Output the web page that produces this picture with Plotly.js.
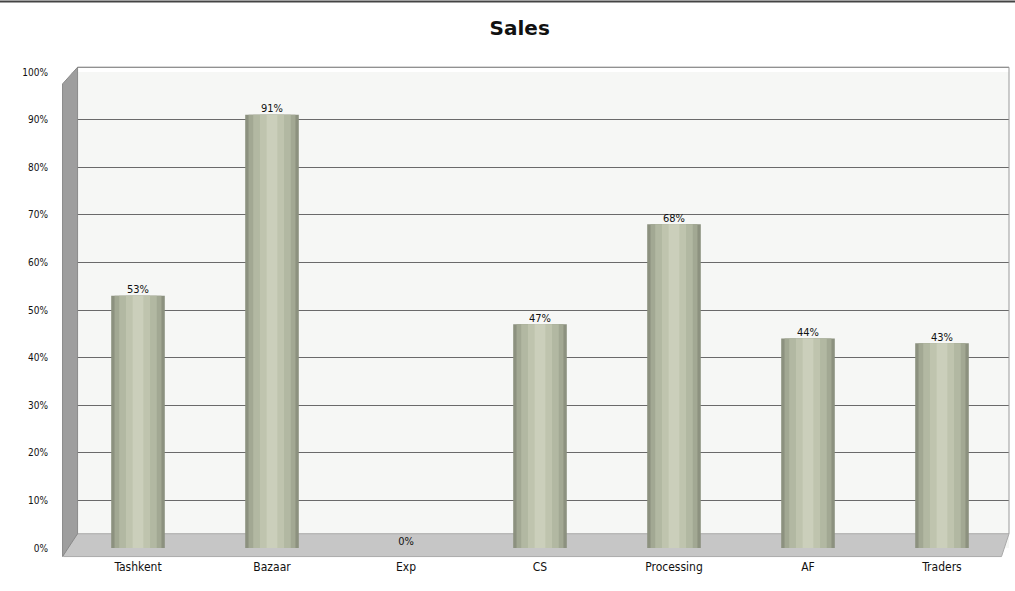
<!DOCTYPE html>
<html><head><meta charset="utf-8">
<script src="https://cdn.plot.ly/plotly-3.0.1.min.js"></script>
<style>html,body{margin:0;padding:0;background:#fff}#chart{width:1015px;height:591px}</style>
</head><body><div id="chart"></div>
<script>
const categories = ["Tashkent","Bazaar","Exp","CS","Processing","AF","Traders"];
const salesValues = [0.53, 0.91, 0.0, 0.47, 0.68, 0.44, 0.43];
const valueLabels = ["53%","91%","0%","47%","68%","44%","43%"];
const yTickValues = [0,0.1,0.2,0.3,0.4,0.5,0.6,0.7,0.8,0.9,1.0];
const yTickLabels = ["0%","10%","20%","30%","40%","50%","60%","70%","80%","90%","100%"];

const font = "'DejaVu Sans Condensed','Liberation Sans Narrow','Liberation Sans',sans-serif";

const layers = [
  {w:0.40, c:"#8c917f"},
  {w:0.35, c:"#a2a893"},
  {w:0.28, c:"#b2b8a2"},
  {w:0.18, c:"#bfc4ae"},
  {w:0.08, c:"#cbcfbb"}
];
const traces = layers.map(l => ({
  type:"bar", x:categories, y:salesValues, width:l.w,
  marker:{color:l.c, line:{width:0}}, hoverinfo:"skip", showlegend:false
}));
traces.push({
  type:"scatter", mode:"text", x:categories, y:salesValues, text:valueLabels,
  textposition:"top center", textfont:{family:font, size:11, color:"#111"},
  showlegend:false, hoverinfo:"skip", cliponaxis:false
});

const layout = {
  width:1015, height:591,
  paper_bgcolor:"#ffffff", plot_bgcolor:"#f6f7f5",
  margin:{l:71, r:6, t:72, b:43},
  title:{text:"<b>Sales</b>", x:0.512, y:0.965, xanchor:"center",
         font:{family:"'DejaVu Sans',sans-serif", size:20, color:"#111"}},
  barmode:"overlay",
  xaxis:{type:"category", showgrid:false, zeroline:false, showline:false, ticks:"",
         tickfont:{family:font, size:12, color:"#111"}, ticklabelstandoff:10},
  yaxis:{range:[0,1.0], tickvals:yTickValues, ticktext:yTickLabels,
         showgrid:true, gridcolor:"#6a6a6a", gridwidth:1, zeroline:false, showline:false,
         ticks:"", tickfont:{family:font, size:10, color:"#111"}, ticklabelstandoff:22},
  shapes:[
    {type:"path", xref:"paper", yref:"paper", layer:"below",
     path:"M -0.008,0.0 L 0.006,0.03 L 1.0,0.03 L 0.992,-0.018 L -0.008,-0.018 Z",
     fillcolor:"#c6c6c6", line:{color:"#aaaaaa", width:1}},
    {type:"path", xref:"paper", yref:"paper", layer:"above",
     path:"M -0.009,-0.018 L -0.009,0.975 L 0.007,1.01 L 0.007,0.03 Z",
     fillcolor:"#9e9e9e", line:{color:"#8a8a8a", width:1}},
    {type:"line", xref:"paper", yref:"paper", x0:0.007, x1:1, y0:1.01, y1:1.01,
     line:{color:"#6a6a6a", width:1}},
    {type:"line", xref:"paper", yref:"paper", x0:1, x1:1, y0:0.03, y1:1.01,
     line:{color:"#9a9a9a", width:1}},
    {type:"line", xref:"paper", yref:"paper", x0:-0.08, x1:1.01, y0:1.148, y1:1.148,
     line:{color:"#444", width:2}}
  ]
};
Plotly.newPlot("chart", traces, layout, {displayModeBar:false, staticPlot:true});
</script></body></html>
